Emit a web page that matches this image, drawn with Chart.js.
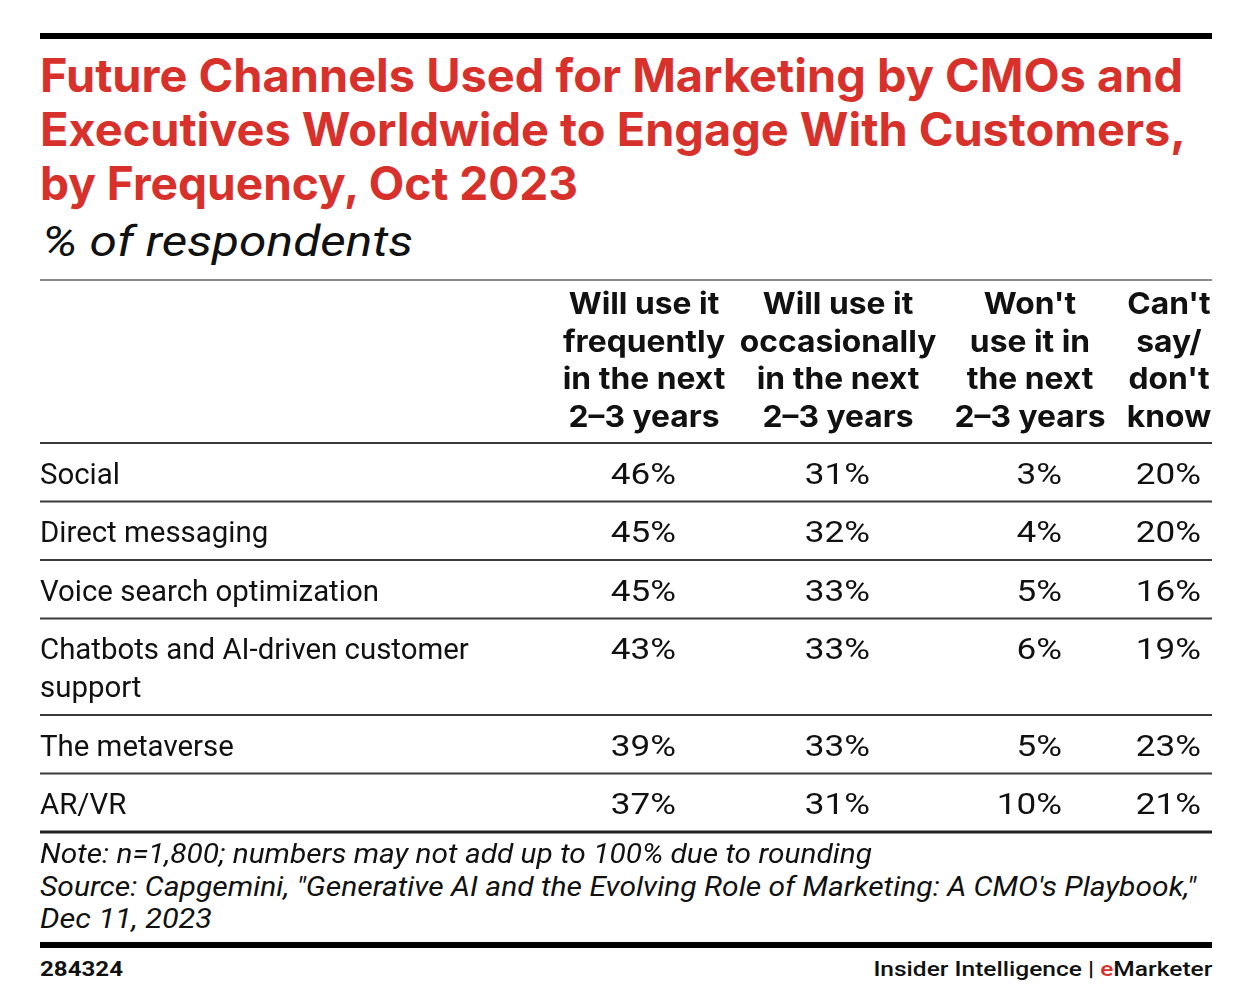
<!DOCTYPE html>
<html><head><meta charset="utf-8">
<script src="https://cdn.jsdelivr.net/npm/chart.js@4.4.0/dist/chart.umd.min.js"></script>
<style>
html,body{margin:0;padding:0;background:#fff;}
body{width:1234px;height:1004px;position:relative;overflow:hidden;font-family:Roboto,sans-serif;color:#111;}
.rule{position:absolute;left:40px;width:1172px;background:#000;}
.t{position:absolute;left:40px;white-space:nowrap;transform-origin:0 50%;}
.title{color:#d8312b;font-family:Inter,sans-serif;font-weight:700;font-size:46px;line-height:54px;}
.sub{font-family:Roboto,sans-serif;font-style:italic;font-weight:400;font-size:42px;line-height:50px;color:#111;}
.note{font-family:Roboto,sans-serif;font-style:italic;font-weight:400;font-size:27px;line-height:32px;color:#111;}
.foot{font-family:Roboto,sans-serif;font-weight:700;font-size:20px;line-height:24px;color:#111;}
#wrap{position:absolute;left:0;top:270px;width:1234px;height:575px;}
</style></head>
<body>
<div class="rule" style="top:33px;height:6px"></div>
<div class="t title" style="top:48px" data-w="1143">Future Channels Used for Marketing by CMOs and</div>
<div class="t title" style="top:102px" data-w="1146">Executives Worldwide to Engage With Customers,</div>
<div class="t title" style="top:156px" data-w="538">by Frequency, Oct 2023</div>
<div class="t sub" style="top:217px;left:42px" data-w="371">% of respondents</div>
<div id="wrap"><canvas id="c"></canvas></div>
<div class="t note" style="top:838px" data-w="832">Note: n=1,800; numbers may not add up to 100% due to rounding</div>
<div class="t note" style="top:871px" data-w="1156">Source: Capgemini, "Generative AI and the Evolving Role of Marketing: A CMO's Playbook,"</div>
<div class="t note" style="top:903px" data-w="172">Dec 11, 2023</div>
<div class="rule" style="top:942px;height:6px"></div>
<div class="t foot" style="top:957px" data-w="83">284324</div>
<div class="t foot" style="top:957px;left:auto;right:22px;transform-origin:100% 50%;font-weight:500" data-w="339">Insider Intelligence | <span style="color:#d8312b">e</span>Marketer</div>
<script>
// ---- data ----
const categories = ["Social", "Direct messaging", "Voice search optimization", "Chatbots and AI-driven customer support", "The metaverse", "AR/VR"];
const columnHeaders = [
  ["Will use it", "frequently", "in the next", "2\u20133 years"],
  ["Will use it", "occasionally", "in the next", "2\u20133 years"],
  ["Won't", "use it in", "the next", "2\u20133 years"],
  ["Can't", "say/", "don't", "know"]
];
const frequently   = [46, 45, 45, 43, 39, 37];
const occasionally = [31, 32, 33, 33, 33, 31];
const wontUse      = [3, 4, 5, 6, 5, 10];
const cantSay      = [20, 20, 16, 19, 23, 21];
const seriesValues = [frequently, occasionally, wontUse, cantSay];

// ---- fit html text widths ----
document.querySelectorAll('[data-w]').forEach(el => {
  const w = el.getBoundingClientRect().width;
  const target = +el.dataset.w;
  if (w > 0) el.style.transform = 'scaleX(' + (target / w) + ')';
});

// ---- layout (styles / sizes) ----
const W = 1234, H = 575;
const LEFT = 40, RIGHT = 1212;
const COL_W = [160, 192, 156, 86], GAP = 18, VAL_OFF = 32;
const HEAD_FONT = '700 30px Inter, sans-serif';
const BODY_FONT = '400 30px Roboto, sans-serif';
const LABEL_MAX = 480;
const HEAD_TOP = 10, HEAD_LH = 37.5, HEAD_H = 163;
const ROW_LH = 38, ROW_PAD = 20.5, FIRST = 33;

const mctx = document.createElement('canvas').getContext('2d');
mctx.font = BODY_FONT;
function wrap(text, max) {
  const words = text.split(' '); const lines = []; let cur = '';
  words.forEach(w => {
    const t = cur ? cur + ' ' + w : w;
    if (mctx.measureText(t).width > max && cur) { lines.push(cur); cur = w; } else cur = t;
  });
  if (cur) lines.push(cur);
  return lines;
}
const labelLines = categories.map(c => wrap(c, LABEL_MAX));

// column centres from right edge
const colCenter = [];
let r = RIGHT;
for (let j = COL_W.length - 1; j >= 0; j--) { colCenter[j] = r - COL_W[j] / 2; r -= COL_W[j] + GAP; }

// row boundaries
const rowTop = []; let y = HEAD_TOP + HEAD_H;
const bounds = [HEAD_TOP, y];
labelLines.forEach(ls => { rowTop.push(y); y += ROW_PAD + ROW_LH * ls.length; bounds.push(y); });

// datasets: points that carry text
const headerPts = [];
columnHeaders.forEach((lines, j) => lines.forEach((t, k) => headerPts.push({x: colCenter[j], y: HEAD_TOP + 25 + HEAD_LH * k, text: t})));
const labelPts = [];
labelLines.forEach((ls, i) => ls.forEach((t, k) => labelPts.push({x: LEFT, y: rowTop[i] + FIRST + ROW_LH * k, text: t})));
const valuePts = [];
seriesValues.forEach((vals, j) => vals.forEach((v, i) => valuePts.push({x: colCenter[j] + VAL_OFF, y: rowTop[i] + FIRST, text: v + '%'})));

const textPlugin = {
  id: 'tableText',
  beforeDatasetsDraw(chart) {
    const ctx = chart.ctx, xs = chart.scales.x, ys = chart.scales.y;
    ctx.save();
    bounds.forEach((b, i) => {
      const py = ys.getPixelForValue(b);
      let lw = 2, col = '#3a3a3a';
      if (i === 0) { lw = 2; col = '#8a8a8a'; }
      if (i === bounds.length - 1) { lw = 3; col = '#222'; }
      ctx.strokeStyle = col; ctx.lineWidth = lw;
      ctx.beginPath(); ctx.moveTo(xs.getPixelForValue(LEFT), py); ctx.lineTo(xs.getPixelForValue(RIGHT), py); ctx.stroke();
    });
    ctx.restore();
  },
  afterDatasetsDraw(chart) {
    const ctx = chart.ctx;
    chart.data.datasets.forEach((ds, di) => {
      const meta = chart.getDatasetMeta(di);
      meta.data.forEach((el, k) => {
        ctx.save();
        ctx.textBaseline = 'middle';
        ctx.font = ds.font; ctx.textAlign = ds.align; ctx.fillStyle = '#111';
        ctx.translate(el.x, el.y);
        ctx.scale(ds.sx, 1);
        ctx.fillText(ds.data[k].text, 0, 0);
        ctx.restore();
      });
    });
  }
};

new Chart(document.getElementById('c'), {
  type: 'scatter',
  data: { datasets: [
    { label: 'header', data: headerPts, font: HEAD_FONT, align: 'center', sx: 1.06, pointRadius: 0 },
    { label: 'labels', data: labelPts, font: BODY_FONT, align: 'left', sx: 0.98, pointRadius: 0 },
    { label: 'values', data: valuePts, font: BODY_FONT, align: 'right', sx: 1.17, pointRadius: 0 }
  ]},
  options: {
    responsive: true, maintainAspectRatio: false, animation: false,
    layout: { padding: 0 },
    plugins: { legend: { display: false }, tooltip: { enabled: false } },
    scales: {
      x: { type: 'linear', min: 0, max: W, display: false },
      y: { type: 'linear', min: 0, max: H, reverse: true, display: false }
    }
  },
  plugins: [textPlugin]
});
</script>
</body></html>
